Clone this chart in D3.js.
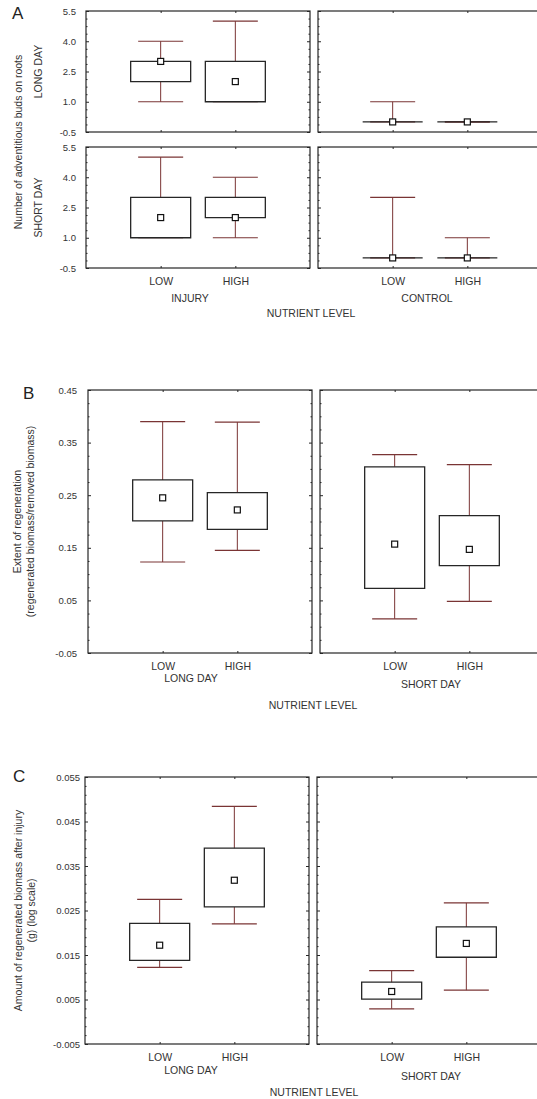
<!DOCTYPE html>
<html>
<head>
<meta charset="utf-8">
<script src="https://cdn.jsdelivr.net/npm/d3@7"></script>
<style>
  body { margin: 0; background: #fff; }
</style>
</head>
<body>
<script>
// nutrient levels on every x axis
const levels = ["LOW", "HIGH"];

// A - adventitious buds (min, 25%, median, 75%, max)
const budsGroups = ["INJURY", "CONTROL"];
const budsRows = ["LONG DAY", "SHORT DAY"];
const budsTicks = [-0.5, 1.0, 2.5, 4.0, 5.5];
const budsLongDay = [
    { group: "INJURY", level: "LOW", min: 1, q1: 2, med: 3, q3: 3, max: 4 },
    { group: "INJURY", level: "HIGH", min: 1, q1: 1, med: 2, q3: 3, max: 5 },
    { group: "CONTROL", level: "LOW", min: 0, q1: 0, med: 0, q3: 0, max: 1 },
    { group: "CONTROL", level: "HIGH", min: 0, q1: 0, med: 0, q3: 0, max: 0 }
];
const budsShortDay = [
    { group: "INJURY", level: "LOW", min: 1, q1: 1, med: 2, q3: 3, max: 5 },
    { group: "INJURY", level: "HIGH", min: 1, q1: 2, med: 2, q3: 3, max: 4 },
    { group: "CONTROL", level: "LOW", min: 0, q1: 0, med: 0, q3: 0, max: 3 },
    { group: "CONTROL", level: "HIGH", min: 0, q1: 0, med: 0, q3: 0, max: 1 }
];

// B - extent of regeneration
const dayGroups = ["LONG DAY", "SHORT DAY"];
const regenTicks = [-0.05, 0.05, 0.15, 0.25, 0.35, 0.45];
const regenStats = [
    { group: "LONG DAY", level: "LOW", min: 0.123, q1: 0.201, med: 0.245, q3: 0.279, max: 0.390 },
    { group: "LONG DAY", level: "HIGH", min: 0.145, q1: 0.185, med: 0.222, q3: 0.255, max: 0.389 },
    { group: "SHORT DAY", level: "LOW", min: 0.015, q1: 0.073, med: 0.157, q3: 0.304, max: 0.327 },
    { group: "SHORT DAY", level: "HIGH", min: 0.048, q1: 0.116, med: 0.147, q3: 0.211, max: 0.308 }
];

// C - regenerated biomass
const biomassTicks = [-0.005, 0.005, 0.015, 0.025, 0.035, 0.045, 0.055];
const biomassStats = [
    { group: "LONG DAY", level: "LOW", min: 0.0122, q1: 0.0138, med: 0.0172, q3: 0.0221, max: 0.0275 },
    { group: "LONG DAY", level: "HIGH", min: 0.0220, q1: 0.0258, med: 0.0318, q3: 0.0390, max: 0.0484 },
    { group: "SHORT DAY", level: "LOW", min: 0.0029, q1: 0.0051, med: 0.0068, q3: 0.0089, max: 0.0115 },
    { group: "SHORT DAY", level: "HIGH", min: 0.0071, q1: 0.0145, med: 0.0176, q3: 0.0213, max: 0.0267 }
];

const width = 537;
const height = 1099;
const plotW = 224; // each frame is this wide, the right ones run off the page
const gap = 8;
const font = "'Liberation Sans', Arial, sans-serif";
const ink = "#262626";
const textColor = "#333";
const whiskerColor = "#7a3434";

const svg = d3.select("body")
    .append("svg")
    .attr("width", width)
    .attr("height", height)
    .attr("font-family", font);

const x = d3.scalePoint().domain(levels).range([0, plotW]).padding(1);

function minorTicks(ticks, n) {
    const out = [];
    for (let i = 0; i < ticks.length - 1; i++) {
        for (let k = 1; k < n; k++) out.push(ticks[i] + (ticks[i + 1] - ticks[i]) * k / n);
    }
    return out;
}

function styleAxis(g, size) {
    g.attr("font-family", font).attr("font-size", size || 10);
    g.select(".domain").remove();
    g.selectAll("line").attr("stroke", ink);
    g.selectAll("text").attr("fill", textColor);
}

// one framed cell with its boxes
function drawCell(left, top, h, y, ticks, nMinor, data, opts) {
    const g = svg.append("g").attr("transform", `translate(${left},${top})`);
    const minor = minorTicks(ticks, nMinor);

    g.append("rect")
        .attr("width", plotW)
        .attr("height", h)
        .attr("fill", "none")
        .attr("stroke", ink)
        .attr("stroke-width", 1.2);

    // inside ticks on the left edge
    g.append("g").call(d3.axisRight(y).tickValues(ticks).tickSize(3).tickFormat("")).call(styleAxis);
    g.append("g").call(d3.axisRight(y).tickValues(minor).tickSize(1.5).tickFormat("")).call(styleAxis);

    if (opts.first) {
        // ticks on the inner right edge and the value labels
        const r = g.append("g").attr("transform", `translate(${plotW},0)`);
        r.append("g").call(d3.axisLeft(y).tickValues(ticks).tickSize(3).tickFormat("")).call(styleAxis);
        r.append("g").call(d3.axisLeft(y).tickValues(minor).tickSize(1.5).tickFormat("")).call(styleAxis);
        g.append("g")
            .call(d3.axisLeft(y).tickValues(ticks).tickSize(0).tickPadding(opts.pad).tickFormat(d => d.toFixed(opts.digits)))
            .call(g => styleAxis(g, 9.5));
    }

    g.append("g").call(d3.axisBottom(x).tickSize(2).tickFormat("")).call(styleAxis);
    g.append("g").attr("transform", `translate(0,${h})`)
        .call(d3.axisTop(x).tickSize(2).tickFormat("")).call(styleAxis);

    if (opts.levelLabels) {
        g.append("g").attr("transform", `translate(0,${h})`)
            .call(d3.axisBottom(x).tickSize(0).tickPadding(10))
            .call(g => styleAxis(g, 10.5));
    }
    if (opts.groupLabel) {
        g.append("text")
            .attr("x", plotW / 2 + opts.groupDx)
            .attr("y", h + opts.groupDy)
            .attr("dy", "0.35em")
            .attr("text-anchor", "middle")
            .attr("font-size", 10.5)
            .attr("fill", textColor)
            .text(opts.groupLabel);
    }

    const box = g.selectAll("g.box")
        .data(data)
        .join("g")
        .attr("class", "box")
        .attr("transform", d => `translate(${x(d.level)},0)`);

    box.append("line")
        .attr("y1", d => y(d.max))
        .attr("y2", d => y(d.min))
        .attr("stroke", whiskerColor);
    box.append("line")
        .attr("x1", -22.5).attr("x2", 22.5)
        .attr("y1", d => y(d.max)).attr("y2", d => y(d.max))
        .attr("stroke", whiskerColor).attr("stroke-width", 1.2);
    box.append("line")
        .attr("x1", -22.5).attr("x2", 22.5)
        .attr("y1", d => y(d.min)).attr("y2", d => y(d.min))
        .attr("stroke", whiskerColor).attr("stroke-width", 1.2);
    box.append("path")
        .attr("d", d => `M-30,${y(d.q3)}H30V${y(d.q1)}H-30Z`)
        .attr("fill", d => d.q3 > d.q1 ? "#fff" : "none")
        .attr("stroke", ink)
        .attr("stroke-width", 1.3);
    box.append("rect")
        .attr("x", -3).attr("y", d => y(d.med) - 3)
        .attr("width", 6).attr("height", 6)
        .attr("fill", "#fff")
        .attr("stroke", "#111")
        .attr("stroke-width", 1.2);

    return g;
}

function label(txt, px, py, size, rotate) {
    const t = svg.append("text")
        .attr("font-size", size)
        .attr("fill", textColor)
        .attr("text-anchor", "middle")
        .attr("dy", "0.35em")
        .text(txt);
    if (rotate) t.attr("transform", `translate(${px},${py}) rotate(-90)`);
    else t.attr("x", px).attr("y", py);
    return t;
}

function panelLetter(txt, px, py) {
    svg.append("text").attr("x", px).attr("y", py)
        .attr("font-size", 17).attr("fill", "#222").text(txt);
}

// ---- Panel A ----
{
    const left = 86;
    const rowTops = [11, 147];
    const h = 121;
    const y = d3.scaleLinear().domain([-0.5, 5.5]).range([h, 0]);
    const rowsData = [budsLongDay, budsShortDay];
    rowsData.forEach((rows, ri) => {
        budsGroups.forEach((grp, gi) => {
            drawCell(left + gi * (plotW + gap), rowTops[ri], h, y, budsTicks, 4,
                rows.filter(d => d.group === grp), {
                    first: gi === 0, pad: 10, digits: 1,
                    levelLabels: ri === 1,
                    groupLabel: ri === 1 ? grp : null,
                    groupDx: gi === 0 ? -8 : -3, groupDy: 30
                });
        });
        label(budsRows[ri], 38, rowTops[ri] + h / 2, 10.5, true);
    });
    label("Number of adventitious buds on roots", 18, 142, 10.5, true);
    label("NUTRIENT LEVEL", 311, 313, 10.5);
    panelLetter("A", 12, 19);
}

// ---- Panel B ----
{
    const left = 88;
    const top = 390;
    const h = 263;
    const y = d3.scaleLinear().domain([-0.05, 0.45]).range([h, 0]);
    dayGroups.forEach((grp, gi) => {
        drawCell(left + gi * (plotW + gap), top, h, y, regenTicks, 4,
            regenStats.filter(d => d.group === grp), {
                first: gi === 0, pad: 11, digits: 2,
                levelLabels: true, groupLabel: grp,
                groupDx: gi === 0 ? -9 : -1, groupDy: gi === 0 ? 25 : 31
            });
    });
    label("Extent of regeneration", 17, top + h / 2, 10.5, true);
    label("(regenerated biomass/removed biomass)", 30, top + h / 2, 10.5, true);
    label("NUTRIENT LEVEL", 313, 705, 10.5);
    panelLetter("B", 23, 399);
}

// ---- Panel C ----
{
    const left = 85;
    const top = 777;
    const h = 267;
    const y = d3.scaleLinear().domain([-0.005, 0.055]).range([h, 0]);
    dayGroups.forEach((grp, gi) => {
        drawCell(left + gi * (plotW + gap), top, h, y, biomassTicks, 5,
            biomassStats.filter(d => d.group === grp), {
                first: gi === 0, pad: 5, digits: 3,
                levelLabels: true, groupLabel: grp,
                groupDx: gi === 0 ? -6 : 2, groupDy: gi === 0 ? 26 : 32
            });
    });
    label("Amount of regenerated biomass after injury", 18, top + h / 2, 10.5, true);
    label("(g) (log scale)", 31, top + h / 2, 10.5, true);
    label("NUTRIENT LEVEL", 314, 1092, 10.5);
    panelLetter("C", 13, 782);
}
</script>
</body>
</html>
